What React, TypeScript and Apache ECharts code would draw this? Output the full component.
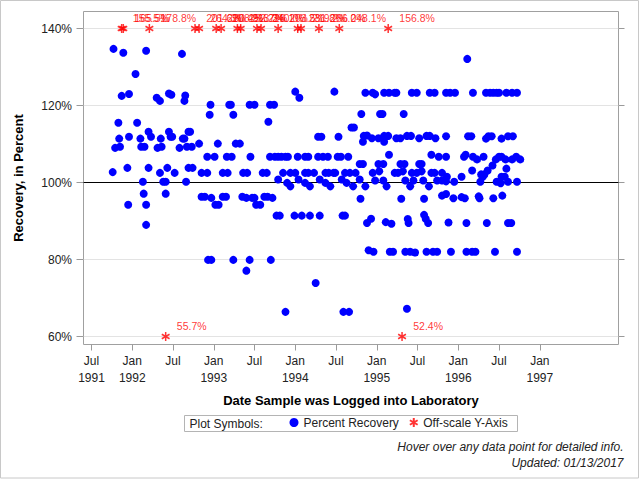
import React, { useEffect, useRef } from "react";
import * as echarts from "echarts";

// Recovery results: [date logged (fractional year), percent recovery]
const recoveryPoints: [number, number][] = [
  // 1991 - 1992
  [1991.77, 134.7], [1991.89, 133.7], [1992.17, 134.2], [1992.61, 133.4], [1992.04, 128.2],
  [1991.87, 122.5], [1991.96, 123.0], [1992.30, 122.0], [1992.34, 121.2], [1992.45, 123.1],
  [1992.48, 122.8], [1992.65, 122.6], [1992.64, 121.2],
  [1992.96, 120.2], [1993.19, 120.2], [1993.21, 120.2], [1993.44, 120.2], [1993.50, 120.2],
  [1992.95, 117.6], [1993.24, 117.6], [1991.83, 115.5], [1992.06, 115.5],
  [1992.20, 113.2], [1992.23, 111.9], [1991.84, 111.4], [1991.96, 111.9], [1992.10, 111.4],
  [1992.35, 111.4], [1992.45, 113.2], [1992.47, 111.9], [1992.49, 111.9], [1992.62, 111.4],
  [1992.64, 111.4], [1992.69, 113.2], [1992.71, 113.2],
  [1991.79, 109.0], [1991.85, 109.3], [1992.11, 109.3], [1992.15, 109.3], [1992.31, 109.0],
  [1992.36, 109.3], [1992.58, 109.0], [1992.67, 109.3], [1992.73, 109.3],
  [1992.82, 110.1], [1993.05, 110.1], [1993.27, 110.1], [1993.32, 110.1],
  [1992.92, 106.7], [1993.01, 106.7], [1993.16, 106.7], [1993.22, 106.7], [1993.45, 106.7],
  [1991.76, 102.7], [1991.94, 103.8], [1992.20, 103.8], [1992.43, 103.8], [1992.34, 102.5],
  [1992.52, 102.5], [1992.69, 103.8], [1992.74, 103.8],
  [1992.85, 102.5], [1992.92, 102.5], [1993.11, 102.5], [1993.17, 102.5], [1993.36, 102.5],
  [1993.41, 102.5], [1993.60, 102.5], [1993.65, 102.5],
  [1992.13, 100.2], [1992.38, 100.2], [1992.41, 100.2], [1992.66, 100.2],
  [1992.14, 97.1], [1992.41, 97.1], [1991.95, 94.2], [1992.17, 94.2], [1992.17, 89.0],
  [1992.85, 96.3], [1992.89, 96.3], [1992.97, 96.0], [1993.02, 94.2], [1993.06, 94.2],
  [1993.11, 96.3], [1993.15, 96.3], [1993.35, 96.3], [1993.40, 96.0], [1993.47, 96.0],
  [1993.50, 96.0], [1993.52, 94.2], [1993.57, 94.2], [1993.62, 96.3],
  [1992.93, 79.9], [1992.97, 79.9], [1993.24, 79.9], [1993.44, 79.9], [1993.40, 77.1],
  // 1993 - 1995
  [1994.00, 123.6], [1994.05, 122.0], [1994.48, 123.6],
  [1994.86, 123.3], [1994.95, 123.3], [1994.98, 122.9], [1995.09, 123.3], [1995.15, 123.3],
  [1995.22, 123.3], [1995.24, 123.3], [1995.43, 123.3], [1995.49, 123.3], [1995.65, 123.3],
  [1995.71, 123.3], [1995.85, 123.3],
  [1993.69, 120.2], [1993.74, 120.2], [1993.67, 115.8],
  [1994.81, 117.8], [1995.04, 117.8], [1995.07, 117.8], [1995.33, 117.8],
  [1994.69, 114.3], [1994.72, 114.3],
  [1994.28, 111.9], [1994.32, 111.9], [1994.53, 111.9],
  [1994.84, 112.1], [1994.88, 112.2], [1994.94, 111.5], [1994.83, 110.6], [1995.02, 111.5],
  [1995.09, 112.1], [1995.14, 112.1], [1995.09, 110.6], [1995.24, 111.5], [1995.29, 111.5],
  [1995.37, 112.1], [1995.42, 112.1], [1995.52, 111.5], [1995.61, 112.1], [1995.65, 112.1],
  [1995.72, 111.5], [1995.85, 112.0],
  [1993.69, 106.7], [1993.75, 106.7], [1993.79, 106.7], [1993.83, 106.7], [1993.88, 106.7],
  [1993.91, 106.7], [1994.03, 106.7], [1994.12, 106.7], [1994.16, 106.7], [1994.28, 106.7],
  [1994.34, 106.7], [1994.40, 106.7], [1994.52, 106.7], [1994.56, 106.7], [1994.65, 106.7],
  [1995.15, 107.2], [1995.67, 107.2], [1995.76, 106.7], [1995.85, 106.7],
  [1994.79, 104.8], [1994.83, 104.8], [1995.02, 104.8], [1995.08, 104.8], [1995.29, 104.8],
  [1995.34, 104.8], [1995.52, 104.8], [1995.55, 104.8],
  [1993.85, 102.5], [1993.94, 102.5], [1994.00, 102.5], [1994.12, 102.5], [1994.16, 102.5],
  [1994.23, 102.5], [1994.37, 102.5], [1994.41, 102.5], [1994.47, 102.5], [1994.49, 102.5],
  [1994.61, 102.5], [1994.67, 102.5], [1994.74, 102.5], [1994.95, 102.5], [1995.22, 102.5],
  [1995.26, 102.5], [1995.43, 102.5], [1995.49, 102.5], [1995.67, 102.5], [1995.71, 102.5],
  [1995.80, 102.5], [1995.03, 102.9], [1995.32, 102.9], [1995.55, 102.9],
  [1993.79, 100.8], [1993.90, 99.9], [1993.94, 99.0], [1994.04, 100.8], [1994.12, 99.9],
  [1994.18, 99.0], [1994.30, 100.8], [1994.37, 99.9], [1994.43, 99.0], [1994.57, 100.8],
  [1994.63, 99.9], [1994.71, 99.0], [1994.79, 100.8], [1994.86, 99.0], [1994.98, 100.5],
  [1995.08, 100.5], [1995.12, 99.0], [1995.35, 100.5], [1995.41, 99.0], [1995.45, 100.5],
  [1995.57, 100.5], [1995.64, 99.0], [1995.74, 100.5], [1995.80, 100.5], [1995.85, 100.3],
  [1993.66, 96.3], [1993.72, 96.0], [1994.80, 95.8], [1995.30, 95.8], [1995.58, 95.8],
  [1995.80, 96.6], [1995.85, 97.0],
  [1993.77, 91.4], [1993.81, 91.4], [1993.99, 91.4], [1994.08, 91.4], [1994.18, 91.4],
  [1994.30, 91.4], [1994.58, 91.4], [1994.61, 91.4],
  [1994.88, 89.5], [1994.93, 90.6], [1995.11, 89.7], [1995.18, 89.3], [1995.38, 90.5],
  [1995.39, 89.5], [1995.58, 91.6], [1995.60, 90.6], [1995.63, 89.5], [1995.88, 89.6],
  [1994.90, 82.4], [1994.96, 82.0], [1995.16, 82.0], [1995.20, 82.0], [1995.35, 82.0],
  [1995.41, 82.0], [1995.47, 81.8], [1995.61, 82.0], [1995.69, 82.0], [1995.74, 82.0],
  [1995.91, 82.0],
  [1993.70, 79.9], [1994.25, 73.9], [1993.88, 66.4], [1994.59, 66.4], [1994.66, 66.4],
  [1995.37, 67.2],
  // 1995 - 1996
  [1996.11, 132.1],
  [1995.90, 123.3], [1995.96, 123.3], [1996.18, 123.3], [1996.34, 123.3], [1996.39, 123.3],
  [1996.43, 123.3], [1996.47, 123.3], [1996.50, 123.3], [1996.59, 123.3], [1996.66, 123.3],
  [1996.72, 123.3],
  [1996.12, 112.0], [1996.16, 112.0], [1996.34, 111.4], [1996.37, 112.0], [1996.41, 112.0],
  [1996.53, 111.4], [1996.61, 112.0], [1996.67, 112.0],
  [1996.07, 106.7], [1996.09, 107.2], [1996.18, 106.7], [1996.23, 106.0], [1996.31, 106.7],
  [1996.46, 106.0], [1996.50, 106.7], [1996.53, 106.7], [1996.58, 106.0], [1996.66, 106.0],
  [1996.71, 106.7], [1996.76, 106.0],
  [1996.17, 103.1], [1996.04, 101.5], [1995.95, 100.2], [1996.28, 102.1], [1996.30, 101.5],
  [1996.32, 102.1], [1996.36, 103.1], [1996.42, 104.4], [1996.27, 100.2], [1996.59, 103.6],
  [1996.53, 101.5], [1996.57, 101.5], [1996.47, 100.2], [1996.52, 99.8], [1996.61, 100.2],
  [1996.72, 100.2], [1995.86, 101.5],
  [1995.94, 95.9], [1996.04, 96.2], [1996.08, 95.9], [1996.25, 96.4], [1996.26, 95.9],
  [1996.43, 95.9], [1996.54, 96.6],
  [1996.10, 89.5], [1996.35, 89.5], [1996.61, 89.5], [1996.65, 89.5],
  [1996.10, 82.0], [1996.17, 82.0], [1996.21, 82.0], [1996.45, 82.0], [1996.72, 82.0],
];

// Results falling outside the plotted range
const offScaleYears = [
  1991.87, 1991.89, 1992.21, 1992.41, 1992.77, 1992.82, 1993.03, 1993.09, 1993.29, 1993.33,
  1993.53, 1993.58, 1993.79, 1994.03, 1994.07, 1994.29, 1994.54, 1995.14, 1995.31,
];
const offScaleValues = [
  155.5, 165.5, 178.8, 55.7, 201.6, 264.3, 230.4, 208.9, 252.7, 213.3,
  226.1, 240.0, 203.5, 231.8, 219.2, 266.0, 248.1, 156.8, 52.4,
];

const yTicks = [60, 80, 100, 120, 140];
const TARGET_PCT = 100;

const Y_MIN = yTicks[0];
const Y_MAX = yTicks[yTicks.length - 1];
const X_MIN = 1991.5; // Jul 1991
const X_MAX = 1997.0; // Jan 1997

const FONT = '"Liberation Sans", Arial, Helvetica, sans-serif';

// layout (px)
const FRAME_L = 83.5;
const FRAME_R = 618.5;
const FRAME_T = 11.5;
const FRAME_B = 344.5;
const PLOT_T = 28.5; // 140%
const PLOT_B = 336.5; // 60%
const DATE_L = 91.5; // Jul 1991
const DATE_R = 539.8; // Jan 1997

const STAR_PATH =
  "path://M0,-5L0,5M-4.33,-2.5L4.33,2.5M-4.33,2.5L4.33,-2.5";

function buildOption(): echarts.EChartsOption {
  const starData = offScaleYears.map((yr, i) => {
    const v = offScaleValues[i];
    const shown = Math.min(Y_MAX, Math.max(Y_MIN, v));
    return [yr, shown, v];
  });

  return {
    animation: false,
    backgroundColor: "#fff",
    textStyle: { fontFamily: FONT },
    tooltip: {
      trigger: "item",
      formatter: (p: any) => {
        const yr = p.value[0];
        const pct = p.value.length > 2 ? p.value[2] : p.value[1];
        return `${p.seriesName}<br/>${yr.toFixed(2)}: ${pct.toFixed(1)}%`;
      },
    },
    grid: [
      {
        left: FRAME_L,
        right: 640 - FRAME_R,
        top: PLOT_T,
        bottom: 480 - PLOT_B,
      },
      {
        left: DATE_L,
        right: 640 - DATE_R,
        top: PLOT_T,
        bottom: 480 - PLOT_B,
      },
    ],
    xAxis: [
      { gridIndex: 0, type: "value", min: 0, max: 1, show: false },
      {
        gridIndex: 1,
        type: "value",
        min: X_MIN,
        max: X_MAX,
        interval: 0.5,
        offset: FRAME_B - PLOT_B,
        axisLine: { show: false },
        axisTick: { show: true, length: 6, lineStyle: { color: "#9a9a9a" } },
        splitLine: { show: false },
        axisLabel: {
          margin: 7.5,
          fontSize: 12,
          lineHeight: 17,
          color: "#222",
          fontFamily: FONT,
          formatter: (v: number) => {
            const yr = Math.floor(v);
            if (v - yr > 0.25) return v === X_MIN ? `Jul\n${yr}` : "Jul";
            return `Jan\n${yr}`;
          },
        },
      },
    ],
    yAxis: [
      {
        gridIndex: 0,
        type: "value",
        min: Y_MIN,
        max: Y_MAX,
        interval: 20,
        axisLine: { show: false },
        axisTick: { show: true, length: 7, lineStyle: { color: "#9a9a9a" } },
        splitLine: { show: true, lineStyle: { color: "#e3e3e3", width: 1 } },
        axisLabel: {
          margin: 11.5,
          fontSize: 12,
          color: "#222",
          fontFamily: FONT,
          formatter: "{value}%",
        },
      },
      {
        gridIndex: 0,
        type: "value",
        position: "right",
        min: Y_MIN,
        max: Y_MAX,
        interval: 20,
        axisLine: { show: false },
        axisTick: { show: true, length: 6, lineStyle: { color: "#9a9a9a" } },
        splitLine: { show: false },
        axisLabel: { show: false },
      },
      { gridIndex: 1, type: "value", min: Y_MIN, max: Y_MAX, show: false },
    ],
    legend: {
      selectedMode: false,
      left: 289.5,
      top: 416.5,
      padding: 0,
      itemWidth: 9,
      itemHeight: 9,
      itemGap: 10,
      textStyle: { fontSize: 12, color: "#222", fontFamily: FONT },
      data: ["Percent Recovery", "Off-scale Y-Axis"],
    },
    series: [
      {
        name: "Target",
        type: "line",
        xAxisIndex: 0,
        yAxisIndex: 0,
        data: [
          [0, TARGET_PCT],
          [1, TARGET_PCT],
        ],
        symbol: "none",
        silent: true,
        z: 1,
        lineStyle: { color: "#000", width: 1 },
        tooltip: { show: false },
      },
      {
        name: "Percent Recovery",
        type: "scatter",
        xAxisIndex: 1,
        yAxisIndex: 2,
        symbol: "circle",
        symbolSize: 8,
        clip: false,
        z: 3,
        itemStyle: { color: "#0000ff", opacity: 1 },
        data: recoveryPoints,
      },
      {
        name: "Off-scale Y-Axis",
        type: "scatter",
        xAxisIndex: 1,
        yAxisIndex: 2,
        symbol: STAR_PATH,
        symbolSize: 9,
        symbolKeepAspect: true,
        clip: false,
        z: 4,
        itemStyle: { color: "#ff0000", borderColor: "#ff0000", borderWidth: 1.5 },
        label: {
          show: true,
          position: "right",
          distance: 6.5,
          offset: [0, -10.5],
          color: "#ff0000",
          fontSize: 10.5,
          fontFamily: FONT,
          formatter: (p: any) => `${p.value[2].toFixed(1)}%`,
        },
        data: starData,
      },
    ],
    graphic: [
      {
        type: "rect",
        silent: true,
        z: -10,
        shape: { x: 0.5, y: 0.5, width: 638, height: 477.5 },
        style: { fill: "none", stroke: "#c8c8c8", lineWidth: 1 },
      },
      {
        type: "rect",
        silent: true,
        z: -5,
        shape: {
          x: FRAME_L,
          y: FRAME_T,
          width: FRAME_R - FRAME_L,
          height: FRAME_B - FRAME_T,
        },
        style: { fill: "none", stroke: "#a0a0a0", lineWidth: 1 },
      },
      {
        type: "text",
        silent: true,
        x: 18.5,
        y: (FRAME_T + FRAME_B) / 2,
        rotation: Math.PI / 2,
        style: {
          text: "Recovery, in Percent",
          font: `bold 13px ${FONT}`,
          fill: "#000",
          align: "center",
          verticalAlign: "middle",
        },
      },
      {
        type: "text",
        silent: true,
        x: (FRAME_L + FRAME_R) / 2,
        y: 400,
        style: {
          text: "Date Sample was Logged into Laboratory",
          font: `bold 13px ${FONT}`,
          fill: "#000",
          align: "center",
          verticalAlign: "middle",
        },
      },
      {
        type: "rect",
        silent: true,
        shape: { x: 184.5, y: 415.5, width: 333, height: 16 },
        style: { fill: "none", stroke: "#b4b4b4", lineWidth: 1 },
      },
      {
        type: "text",
        silent: true,
        x: 189.5,
        y: 423.5,
        style: {
          text: "Plot Symbols:",
          font: `12px ${FONT}`,
          fill: "#222",
          align: "left",
          verticalAlign: "middle",
        },
      },
      {
        type: "text",
        silent: true,
        x: 623.5,
        y: 446.5,
        style: {
          text: "Hover over any data point for detailed info.",
          font: `italic 12px ${FONT}`,
          fill: "#222",
          align: "right",
          verticalAlign: "middle",
        },
      },
      {
        type: "text",
        silent: true,
        x: 623.5,
        y: 462.5,
        style: {
          text: "Updated: 01/13/2017",
          font: `italic 12px ${FONT}`,
          fill: "#222",
          align: "right",
          verticalAlign: "middle",
        },
      },
    ],
  };
}

export default function App() {
  const ref = useRef<HTMLDivElement>(null);

  useEffect(() => {
    if (!ref.current) return;
    const prevMargin = document.body.style.margin;
    document.body.style.margin = "0";
    const chart = echarts.init(ref.current, null, { renderer: "svg" });
    chart.setOption(buildOption());
    return () => {
      chart.dispose();
      document.body.style.margin = prevMargin;
    };
  }, []);

  return (
    <div style={{ position: "fixed", left: 0, top: 0, width: 640, height: 480 }}>
      <div ref={ref} style={{ width: 640, height: 480, background: "#fff" }} />
    </div>
  );
}
